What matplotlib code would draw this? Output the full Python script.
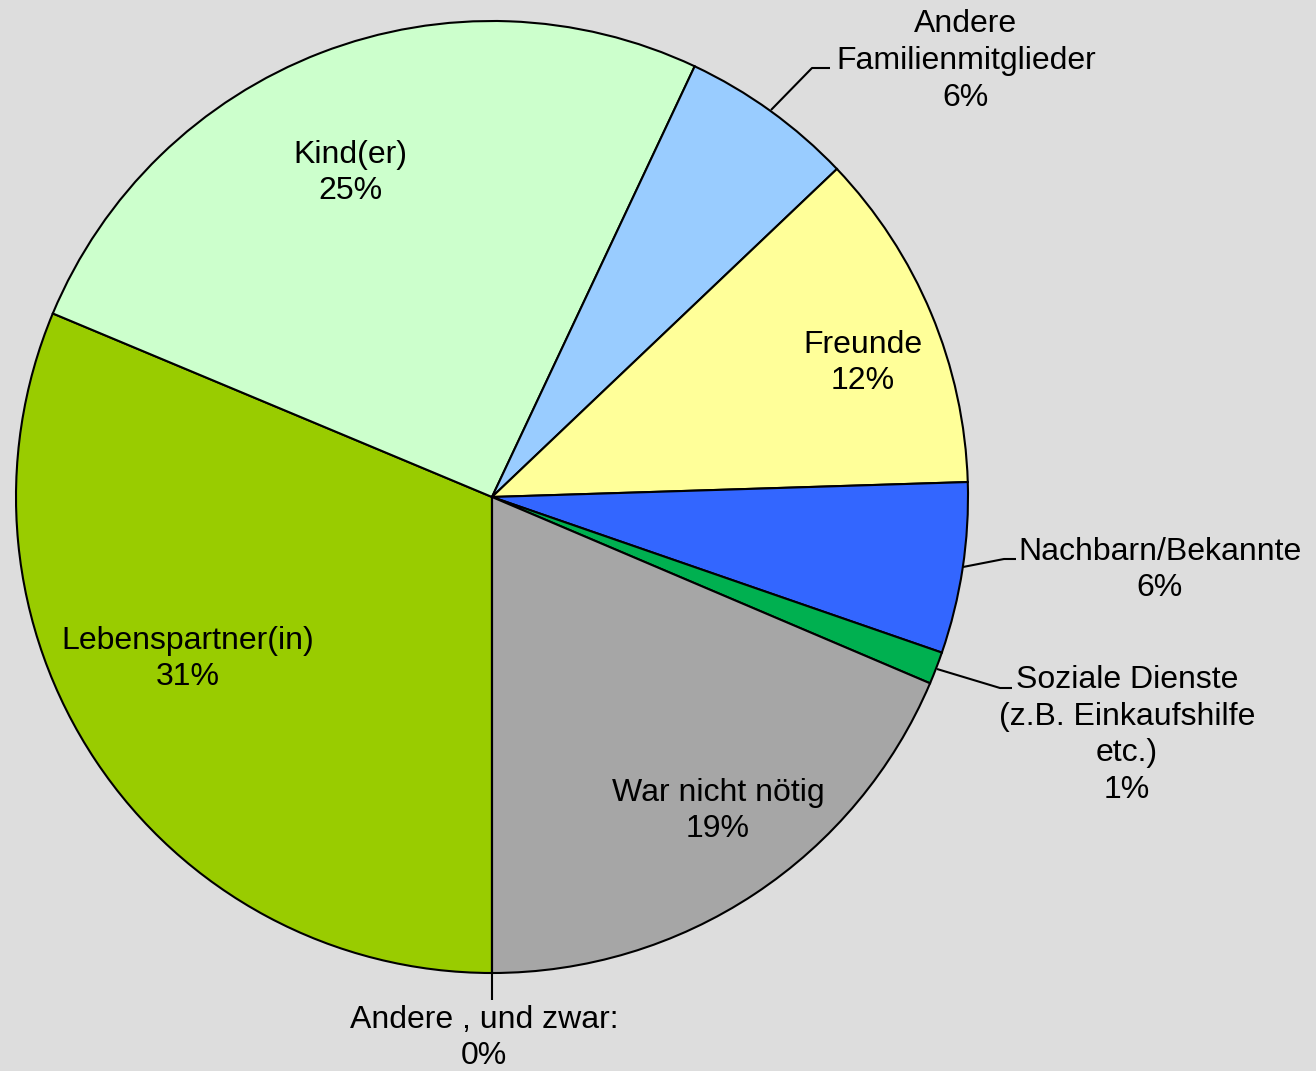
import matplotlib.pyplot as plt
import numpy as np

# --- data ---
categories = ['Lebenspartner(in)', 'Kind(er)', 'Andere\nFamilienmitglieder', 'Freunde',
              'Nachbarn/Bekannte', 'Soziale Dienste\n(z.B. Einkaufshilfe\netc.)',
              'War nicht nötig', 'Andere , und zwar:']
shares = [31.3, 25.7, 5.9, 11.6, 5.8, 1.1, 18.6, 0.0]
pct_labels = ['31%', '25%', '6%', '12%', '6%', '1%', '19%', '0%']
colors = ['#99CC00', '#CCFFCC', '#99CCFF', '#FFFF99', '#3366FF', '#00B050', '#A6A6A6', '#FFFFFF']

# --- layout (pixel-like coordinates, y upward) ---
W, H = 1316, 1071
CX, CY, R = 492, H - 497, 476

# label text centres
label_pos = [(188, H - 659), (350, H - 173), (966, H - 61), (863, H - 363),
             (1160, H - 570), (1127, H - 735), (718, H - 811), (484, H - 1038)]
# leader lines for outside labels: index -> list of points
leaders = {
    2: [(771, 110), (812, 68), (830, 68)],
    4: [(963, 567), (1004, 559), (1016, 559)],
    5: [(937, 669), (1000, 688), (1012, 688)],
    7: [(492, 973), (492, 1000)],
}

plt.rcParams['font.family'] = ['Liberation Sans', 'DejaVu Sans']

fig = plt.figure(figsize=(W / 100, H / 100), dpi=100)
fig.patch.set_facecolor('#DDDDDD')
ax = fig.add_axes([0, 0, 1, 1])
ax.set_facecolor('#DDDDDD')

ax.pie(shares, colors=colors, startangle=270, counterclock=False,
       center=(CX, CY), radius=R, frame=True,
       wedgeprops=dict(edgecolor='black', linewidth=1.5))

ax.set_xlim(0, W)
ax.set_ylim(0, H)
ax.set_aspect('equal')
ax.axis('off')

for i, (name, pct) in enumerate(zip(categories, pct_labels)):
    x, y = label_pos[i]
    ax.text(x, y, f'{name}\n{pct}', ha='center', va='center', fontsize=23,
            linespacing=1.29, color='black')

for pts in leaders.values():
    xs = [p[0] for p in pts]
    ys = [H - p[1] for p in pts]
    ax.plot(xs, ys, color='black', linewidth=1.5, solid_capstyle='butt')

fig.savefig('out.png', dpi=100, facecolor=fig.get_facecolor())
